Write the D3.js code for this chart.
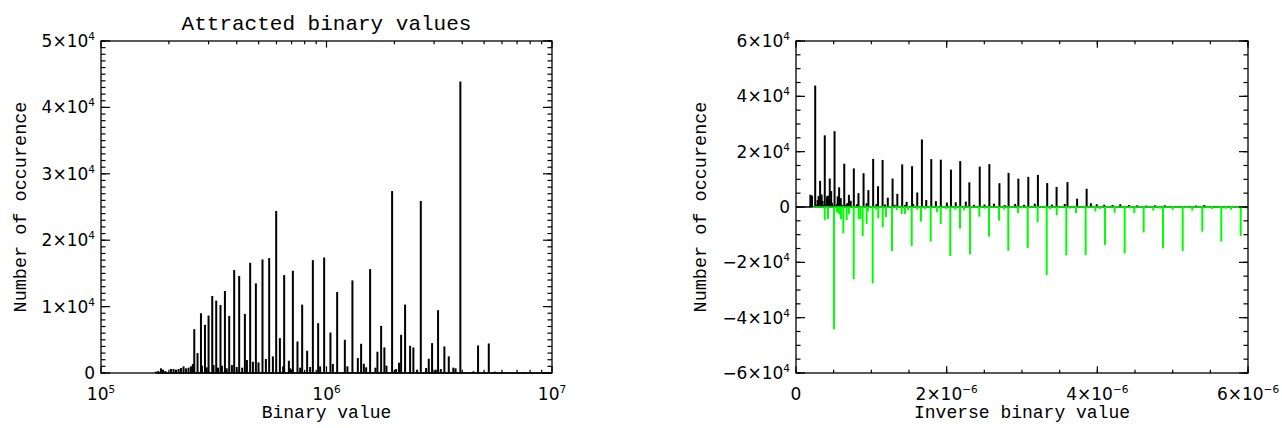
<!DOCTYPE html>
<html>
<head>
<meta charset="utf-8">
<script src="https://cdn.jsdelivr.net/npm/d3@7"></script>
<style>
  body { margin: 0; background: #fff; }
  svg { display: block; }
</style>
</head>
<body>
<svg id="chart" width="1282" height="428"></svg>
<script>
// attracted binary values and how often each one occurs (black, both panels)
var binaryValues = [
  1.749e5, 1.794e5, 1.845e5, 1.883e5, 1.928e5, 2.043e5, 2.098e5, 2.150e5, 2.208e5, 2.262e5,
  2.323e5, 2.380e5, 2.444e5, 2.505e5, 2.555e5, 2.592e5, 2.680e5, 2.775e5, 2.803e5, 2.891e5,
  2.944e5, 2.999e5, 3.114e5, 3.155e5, 3.243e5, 3.303e5, 3.388e5, 3.437e5, 3.544e5, 3.610e5,
  3.703e5, 3.806e5, 3.896e5, 3.997e5, 4.100e5, 4.229e5, 4.346e5, 4.436e5, 4.587e5, 4.716e5,
  4.862e5, 4.994e5, 5.202e5, 5.385e5, 5.569e5, 5.784e5, 5.983e5, 6.213e5, 6.425e5, 6.491e5,
  6.810e5, 6.905e5, 7.094e5, 7.435e5, 7.642e5, 7.800e5, 8.207e5, 8.462e5, 8.700e5, 9.183e5,
  9.371e5, 9.763e5, 1.041e6, 1.067e6, 1.115e6, 1.206e6, 1.238e6, 1.303e6, 1.377e6, 1.424e6,
  1.464e6, 1.499e6, 1.561e6, 1.648e6, 1.682e6, 1.747e6, 1.806e6, 1.844e6, 1.954e6, 2.036e6,
  2.098e6, 2.142e6, 2.231e6, 2.348e6, 2.428e6, 2.522e6, 2.619e6, 2.764e6, 2.841e6, 2.939e6,
  3.052e6, 3.124e6, 3.213e6, 3.332e6, 3.485e6, 3.652e6, 3.736e6, 3.923e6, 4.478e6, 4.700e6,
  5.244e6, 5.589e6, 7.514e6
];
var binaryCounts = [
  200, 300, 700, 500, 300, 600, 600, 500, 600, 750,
  1000, 700, 800, 1000, 1350, 6600, 3000, 9000, 1100, 7250,
  850, 8650, 11600, 1200, 10900, 800, 10250, 1100, 12350, 700,
  8600, 1200, 15500, 900, 14600, 800, 8900, 1950, 16600, 1700,
  13500, 1600, 17100, 2100, 17300, 2500, 24400, 5250, 1000, 14750,
  1850, 700, 15400, 4750, 800, 10300, 3350, 900, 17000, 7500,
  1000, 17400, 6100, 1350, 12200, 5000, 1000, 13950, 2250, 4400,
  1400, 850, 15650, 800, 3200, 7100, 3850, 1100, 27400, 600,
  1550, 5750, 10300, 4100, 3850, 500, 25900, 750, 2150, 4500,
  500, 9450, 600, 4000, 2500, 800, 700, 43900, 250, 4150,
  4450, 200, 150
];

// second series, plotted downwards in green (inverse value, count)
var greenInverse = [
  0.226e-6, 0.381e-6, 0.425e-6, 0.504e-6, 0.544e-6, 0.571e-6, 0.597e-6, 0.628e-6, 0.673e-6, 0.704e-6,
  0.766e-6, 0.832e-6, 0.854e-6, 0.885e-6, 0.938e-6, 0.956e-6, 1.018e-6, 1.062e-6, 1.092e-6, 1.151e-6,
  1.195e-6, 1.274e-6, 1.337e-6, 1.403e-6, 1.447e-6, 1.487e-6, 1.536e-6, 1.610e-6, 1.659e-6, 1.712e-6,
  1.788e-6, 1.872e-6, 1.921e-6, 1.991e-6, 2.048e-6, 2.115e-6, 2.177e-6, 2.230e-6, 2.310e-6, 2.433e-6,
  2.509e-6, 2.562e-6, 2.695e-6, 2.761e-6, 2.818e-6, 2.947e-6, 3.000e-6, 3.076e-6, 3.208e-6, 3.328e-6,
  3.372e-6, 3.461e-6, 3.588e-6, 3.637e-6, 3.717e-6, 3.845e-6, 3.973e-6, 4.035e-6, 4.102e-6, 4.230e-6,
  4.363e-6, 4.434e-6, 4.491e-6, 4.615e-6, 4.743e-6, 4.832e-6, 4.872e-6, 5.000e-6, 5.133e-6, 5.177e-6,
  5.260e-6, 5.393e-6, 5.469e-6, 5.522e-6, 5.645e-6, 5.708e-6, 5.774e-6, 5.903e-6, 5.973e-6
];
var greenCounts = [
  -300, -4700, -4300, -44200, -2000, -2500, -4400, -9500, -4700, -2500,
  -26100, -4300, -4300, -10500, -6100, -1500, -27600, -900, -4100, -7300,
  -3600, -15900, -1200, -2500, -2500, -1100, -14100, -1000, -5300, -800,
  -12500, -1800, -6200, -700, -17700, -1000, -7800, -1200, -17100, -3500,
  -600, -10700, -4900, -900, -15800, -2200, -500, -14900, -5500, -24600,
  -800, -3000, -17500, -600, -2200, -17400, -1600, -700, -13700, -2100,
  -16800, -500, -2200, -9200, -1300, -600, -14900, -1000, -15900, -400,
  -1300, -8900, -500, -700, -12500, -600, -1000, -10500, -500
];

// ticks and their labels ("^" marks the exponent)
var leftXTicks = [1e5, 1e6, 1e7],
    leftXLabels = ["10^5", "10^6", "10^7"];
var leftYTicks = [0, 1e4, 2e4, 3e4, 4e4, 5e4],
    leftYLabels = ["0", "1×10^4", "2×10^4", "3×10^4", "4×10^4", "5×10^4"];
var rightXTicks = [0, 2e-6, 4e-6, 6e-6],
    rightXLabels = ["0", "2×10^−6", "4×10^−6", "6×10^−6"];
var rightYTicks = [-6e4, -4e4, -2e4, 0, 2e4, 4e4, 6e4],
    rightYLabels = ["−6×10^4", "−4×10^4", "−2×10^4", "0", "2×10^4", "4×10^4", "6×10^4"];

var svg = d3.select("#chart");

var boxL = {x0: 101, x1: 552, y0: 41, y1: 373},
    boxR = {x0: 796, x1: 1248, y0: 41, y1: 373};

var xL = d3.scaleLog().domain([1e5, 1e7]).range([boxL.x0, boxL.x1]),
    yL = d3.scaleLinear().domain([0, 5e4]).range([boxL.y1, boxL.y0]),
    xR = d3.scaleLinear().domain([0, 6e-6]).range([boxR.x0, boxR.x1]),
    yR = d3.scaleLinear().domain([-6e4, 6e4]).range([boxR.y1, boxR.y0]);

// minor ticks
var leftXMinor = [];
[1e5, 1e6].forEach(function(d) { d3.range(2, 10).forEach(function(k) { leftXMinor.push(k * d); }); });
var leftYMinor = d3.range(0, 50001, 1000),
    rightXMinor = d3.range(0, 6.01e-6, 0.5e-6),
    rightYMinor = d3.range(-60000, 60001, 5000);

function tickLabel(g, str, x, y, anchor) {
  var parts = str.split("^");
  var t = g.append("text")
      .attr("x", x)
      .attr("y", y)
      .attr("text-anchor", anchor)
      .attr("font-family", "DejaVu Sans")
      .attr("font-size", 17)
      .attr("fill", "#000");
  t.append("tspan").text(parts[0]);
  if (parts[1]) t.append("tspan").attr("dy", -7).attr("font-size", 10.5).text(parts[1]);
}

function frame(box, xs, ys, xMaj, xMin, yMaj, yMin) {
  var g = svg.append("g");
  var xLen = 0.02 * (box.y1 - box.y0),
      yLen = 0.02 * (box.x1 - box.x0);
  function vtick(x, len) {
    g.append("line").attr("x1", x).attr("x2", x).attr("y1", box.y1).attr("y2", box.y1 - len);
    g.append("line").attr("x1", x).attr("x2", x).attr("y1", box.y0).attr("y2", box.y0 + len);
  }
  function htick(y, len) {
    g.append("line").attr("y1", y).attr("y2", y).attr("x1", box.x0).attr("x2", box.x0 + len);
    g.append("line").attr("y1", y).attr("y2", y).attr("x1", box.x1).attr("x2", box.x1 - len);
  }
  xMin.forEach(function(d) { vtick(xs(d), xLen / 2); });
  xMaj.forEach(function(d) { vtick(xs(d), xLen); });
  yMin.forEach(function(d) { htick(ys(d), yLen / 2); });
  yMaj.forEach(function(d) { htick(ys(d), yLen); });
  g.selectAll("line").attr("stroke", "#000").attr("stroke-width", 1.2);
  g.append("rect")
      .attr("x", box.x0).attr("y", box.y0)
      .attr("width", box.x1 - box.x0).attr("height", box.y1 - box.y0)
      .attr("fill", "none").attr("stroke", "#000").attr("stroke-width", 1.3);
  return g;
}

function spikes(g, xs, ys, xvals, counts, color) {
  g.selectAll(null)
    .data(d3.zip(xvals, counts))
    .enter().append("rect")
      .attr("x", function(d) { return xs(d[0]) - 1; })
      .attr("y", function(d) { return ys(Math.max(d[1], 0)); })
      .attr("width", 2)
      .attr("height", function(d) { return Math.abs(ys(d[1]) - ys(0)); })
      .attr("fill", color);
}

// left panel: counts against binary value
var gL = svg.append("g");
gL.append("line")
    .attr("x1", xL(d3.min(binaryValues))).attr("x2", boxL.x1)
    .attr("y1", yL(0)).attr("y2", yL(0))
    .attr("stroke", "#000").attr("stroke-width", 1.5);
spikes(gL, xL, yL, binaryValues, binaryCounts, "#000");
frame(boxL, xL, yL, leftXTicks, leftXMinor, leftYTicks, leftYMinor);

leftXTicks.forEach(function(d, i) { tickLabel(svg, leftXLabels[i], xL(d), 400, "middle"); });
leftYTicks.forEach(function(d, i) { tickLabel(svg, leftYLabels[i], boxL.x0 - 6, yL(d) + 6, "end"); });

// right panel: counts against inverse binary value
var gR = svg.append("g");
gR.append("line")
    .attr("x1", boxR.x0).attr("x2", boxR.x1)
    .attr("y1", yR(0)).attr("y2", yR(0))
    .attr("stroke", "#000").attr("stroke-width", 1.5);
spikes(gR, xR, yR, binaryValues.map(function(v) { return 1 / v; }), binaryCounts, "#000");
gR.append("line")
    .attr("x1", xR(d3.min(greenInverse))).attr("x2", boxR.x1)
    .attr("y1", yR(0)).attr("y2", yR(0))
    .attr("stroke", "#00ff00").attr("stroke-width", 1.5);
spikes(gR, xR, yR, greenInverse, greenCounts, "#00ff00");
frame(boxR, xR, yR, rightXTicks, rightXMinor, rightYTicks, rightYMinor);

rightXTicks.forEach(function(d, i) { tickLabel(svg, rightXLabels[i], xR(d), 400, "middle"); });
rightYTicks.forEach(function(d, i) { tickLabel(svg, rightYLabels[i], boxR.x0 - 6, yR(d) + 6, "end"); });

// titles
function title(x, y, str, size, rotate) {
  svg.append("text")
      .attr("transform", "translate(" + x + "," + y + ")" + (rotate ? " rotate(-90)" : ""))
      .attr("text-anchor", "middle")
      .attr("font-family", "Liberation Mono")
      .attr("font-size", size)
      .attr("fill", "#000")
      .text(str);
}
title((boxL.x0 + boxL.x1) / 2, 30, "Attracted binary values", 21);
title((boxL.x0 + boxL.x1) / 2, 418, "Binary value", 18);
title((boxR.x0 + boxR.x1) / 2, 418, "Inverse binary value", 18);
title(26, (boxL.y0 + boxL.y1) / 2, "Number of occurence", 18.5, true);
title(706, (boxR.y0 + boxR.y1) / 2, "Number of occurence", 18.5, true);
</script>
</body>
</html>
